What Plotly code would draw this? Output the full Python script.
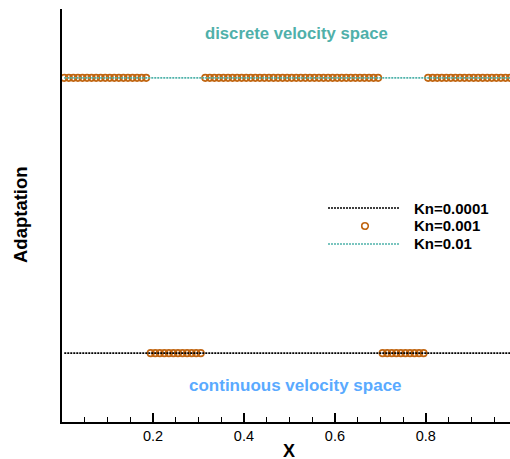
import plotly.graph_objects as go

# ---- data -------------------------------------------------------------
# cell-centre coordinates of the 1-D grid
X_CENTERS = [
    0.005, 0.015, 0.025, 0.035, 0.045, 0.055, 0.065, 0.075, 0.085, 0.095,
    0.105, 0.115, 0.125, 0.135, 0.145, 0.155, 0.165, 0.175, 0.185, 0.195,
    0.205, 0.215, 0.225, 0.235, 0.245, 0.255, 0.265, 0.275, 0.285, 0.295,
    0.305, 0.315, 0.325, 0.335, 0.345, 0.355, 0.365, 0.375, 0.385, 0.395,
    0.405, 0.415, 0.425, 0.435, 0.445, 0.455, 0.465, 0.475, 0.485, 0.495,
    0.505, 0.515, 0.525, 0.535, 0.545, 0.555, 0.565, 0.575, 0.585, 0.595,
    0.605, 0.615, 0.625, 0.635, 0.645, 0.655, 0.665, 0.675, 0.685, 0.695,
    0.705, 0.715, 0.725, 0.735, 0.745, 0.755, 0.765, 0.775, 0.785, 0.795,
    0.805, 0.815, 0.825, 0.835, 0.845, 0.855, 0.865, 0.875, 0.885, 0.895,
    0.905, 0.915, 0.925, 0.935, 0.945, 0.955, 0.965, 0.975, 0.985, 0.995,
]

# adaptation flag per cell: 1 = discrete velocity space, 0 = continuous
KN_0001_FLAGS = ("0000000000 0000000000 0000000000 0000000000 0000000000 "
                 "0000000000 0000000000 0000000000 0000000000 0000000000")
KN_001_FLAGS = ("1111111111 1111111110 0000000000 0111111111 1111111111 "
                "1111111111 1111111111 0000000000 1111111111 1111111111")
KN_01_FLAGS = ("1111111111 1111111111 1111111111 1111111111 1111111111 "
               "1111111111 1111111111 1111111111 1111111111 1111111111")

KN_0001 = [int(c) for c in KN_0001_FLAGS if c in "01"]
KN_001 = [int(c) for c in KN_001_FLAGS if c in "01"]
KN_01 = [int(c) for c in KN_01_FLAGS if c in "01"]

SERIES_NAMES = ["Kn=0.0001", "Kn=0.001", "Kn=0.01"]
X_TICKS = [0.2, 0.4, 0.6, 0.8]

# ---- style ------------------------------------------------------------
FONT = "Liberation Sans, Arial, Helvetica, sans-serif"
BLACK = "#000000"
ORANGE = "#c0640f"
TEAL = "#4fb2aa"
TEXT_TEAL = "#4fb0aa"
TEXT_BLUE = "#5aaaff"
DASH = "2px,1px"

fig = go.Figure()

fig.add_trace(go.Scatter(
    x=X_CENTERS, y=KN_001, mode="markers", name=SERIES_NAMES[1],
    marker=dict(symbol="circle-open", size=6.5, color=ORANGE,
                line=dict(width=1.6, color=ORANGE)),
))
fig.add_trace(go.Scatter(
    x=X_CENTERS, y=KN_0001, mode="lines", name=SERIES_NAMES[0],
    line=dict(color=BLACK, width=1.7, dash=DASH),
))
fig.add_trace(go.Scatter(
    x=X_CENTERS, y=KN_01, mode="lines", name=SERIES_NAMES[2],
    line=dict(color=TEAL, width=1.7, dash=DASH),
))

# ---- geometry helpers (pixel -> paper) --------------------------------
W, H = 510, 459
L, R, T, B = 62, 0, 9, 37
PW, PH = W - L - R, H - T - B


def px(xp):
    return (xp - L) / PW


def py(yp):
    return (H - B - yp) / PH


# ---- manual legend ----------------------------------------------------
shapes = [
    dict(type="line", xref="paper", yref="paper", x0=px(328), x1=px(400),
         y0=py(208), y1=py(208), line=dict(color=BLACK, width=1.7, dash=DASH)),
    dict(type="line", xref="paper", yref="paper", x0=px(328), x1=px(400),
         y0=py(244), y1=py(244), line=dict(color=TEAL, width=1.7, dash=DASH)),
    dict(type="circle", xref="paper", yref="paper",
         xsizemode="pixel", ysizemode="pixel",
         xanchor=px(365), yanchor=py(226),
         x0=-3.3, x1=3.3, y0=-3.3, y1=3.3,
         line=dict(color=ORANGE, width=1.6)),
]

annotations = []
for name, yp in zip(SERIES_NAMES, [208, 226, 244]):
    annotations.append(dict(
        x=px(412), y=py(yp), xref="paper", yref="paper", text=name,
        showarrow=False, xanchor="left", yanchor="middle",
        font=dict(family=FONT, size=15, color=BLACK, weight="bold"),
    ))

annotations += [
    dict(x=px(296), y=py(33), xref="paper", yref="paper",
         text="discrete velocity space", showarrow=False,
         xanchor="center", yanchor="middle",
         font=dict(family=FONT, size=16.7, color=TEXT_TEAL, weight="bold")),
    dict(x=px(295), y=py(385), xref="paper", yref="paper",
         text="continuous velocity space", showarrow=False,
         xanchor="center", yanchor="middle",
         font=dict(family=FONT, size=17, color=TEXT_BLUE, weight="bold")),
    dict(x=px(20), y=py(215), xref="paper", yref="paper",
         text="Adaptation", showarrow=False, textangle=-90,
         xanchor="center", yanchor="middle",
         font=dict(family=FONT, size=18.5, color=BLACK, weight="bold")),
    dict(x=px(289), y=py(450), xref="paper", yref="paper",
         text="X", showarrow=False, xanchor="center", yanchor="middle",
         height=17, borderpad=0,
         font=dict(family=FONT, size=18, color=BLACK, weight="bold")),
]

fig.update_layout(
    width=W, height=H,
    margin=dict(l=L, r=R, t=T, b=B, pad=0),
    paper_bgcolor="white", plot_bgcolor="white",
    showlegend=False,
    font=dict(family=FONT, color=BLACK),
    shapes=shapes, annotations=annotations,
    xaxis=dict(
        range=[0, 0.985], showgrid=False, zeroline=False,
        showline=True, linecolor=BLACK, linewidth=2,
        ticks="inside", tickvals=X_TICKS, ticklen=9, tickwidth=2,
        tickcolor=BLACK, tickfont=dict(family=FONT, size=14.5, color=BLACK),
        minor=dict(ticks="inside", tickmode="linear", tick0=0, dtick=0.05,
                   ticklen=5, tickwidth=1, tickcolor=BLACK, showgrid=False),
    ),
    yaxis=dict(
        range=[-0.25, 1.25], showgrid=False, zeroline=False,
        showline=True, linecolor=BLACK, linewidth=2,
        ticks="", showticklabels=False,
    ),
)

fig.write_html("out.html")
